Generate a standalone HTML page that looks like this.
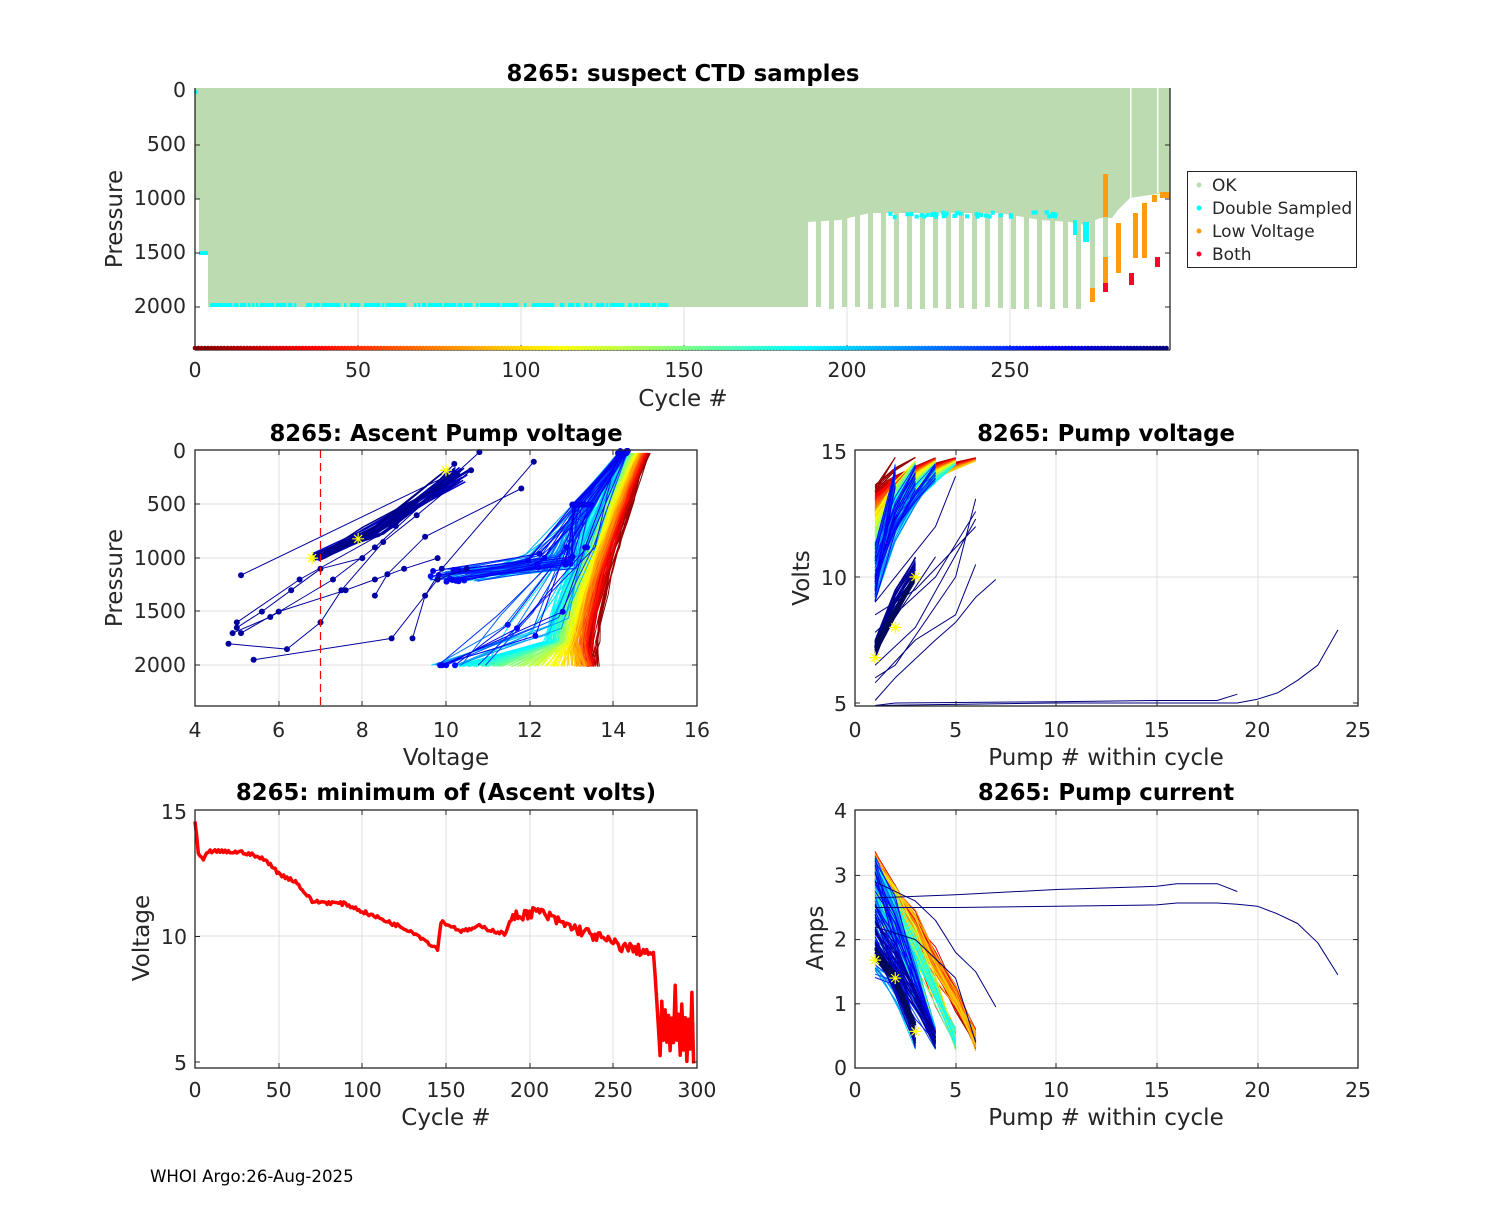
<!DOCTYPE html>
<html><head><meta charset="utf-8"><style>
html,body{margin:0;padding:0;background:#fff;}
svg text{font-family:"DejaVu Sans","Liberation Sans",sans-serif;fill:#262626;}
</style></head><body>
<svg id="s" width="1500" height="1200" viewBox="0 0 1500 1200" xmlns="http://www.w3.org/2000/svg">
<rect width="1500" height="1200" fill="#fff"/>
<g id="g"></g>
<g font-size="23">
<text x="683" y="81" text-anchor="middle" font-weight="bold" font-size="22.8" style="fill:#000">8265: suspect CTD samples</text>
<text x="446" y="441" text-anchor="middle" font-weight="bold" font-size="22.8" style="fill:#000">8265: Ascent Pump voltage</text>
<text x="1106" y="441" text-anchor="middle" font-weight="bold" font-size="22.8" style="fill:#000">8265: Pump voltage</text>
<text x="446" y="800" text-anchor="middle" font-weight="bold" font-size="22.8" style="fill:#000">8265: minimum of (Ascent volts)</text>
<text x="1106" y="800" text-anchor="middle" font-weight="bold" font-size="22.8" style="fill:#000">8265: Pump current</text>
<text x="683" y="406" text-anchor="middle">Cycle #</text>
<text x="446" y="765" text-anchor="middle">Voltage</text>
<text x="1106" y="765" text-anchor="middle">Pump # within cycle</text>
<text x="446" y="1125" text-anchor="middle">Cycle #</text>
<text x="1106" y="1125" text-anchor="middle">Pump # within cycle</text>
<text transform="translate(122,219) rotate(-90)" text-anchor="middle">Pressure</text>
<text transform="translate(122,578) rotate(-90)" text-anchor="middle">Pressure</text>
<text transform="translate(809,578) rotate(-90)" text-anchor="middle">Volts</text>
<text transform="translate(149,938) rotate(-90)" text-anchor="middle">Voltage</text>
<text transform="translate(823,938) rotate(-90)" text-anchor="middle">Amps</text>
<text x="150" y="1182" font-size="16.6" style="fill:#000">WHOI Argo:26-Aug-2025</text>
</g>
<g font-size="17">
<rect x="1187.5" y="171.5" width="169" height="96" fill="#fff" stroke="#262626"/>
<circle cx="1199" cy="185" r="2.5" fill="#bcdbb0"/><text x="1212" y="191">OK</text>
<circle cx="1199" cy="208" r="2.5" fill="#00ffff"/><text x="1212" y="214">Double Sampled</text>
<circle cx="1199" cy="231" r="2.5" fill="#ff9b0f"/><text x="1212" y="237">Low Voltage</text>
<circle cx="1199" cy="254" r="2.5" fill="#ff0028"/><text x="1212" y="260">Both</text>
</g>
</svg>
<script>
var seed=7;function R(){seed=(seed*16807)%2147483647;return (seed-1)/2147483646;}
function cl(v){return Math.max(0,Math.min(1,v));}
function jet(t){var r=cl(1.5-Math.abs(4*t-3)),g=cl(1.5-Math.abs(4*t-2)),b=cl(1.5-Math.abs(4*t-1));return 'rgb('+Math.round(r*255)+','+Math.round(g*255)+','+Math.round(b*255)+')';}
function cc(c){return jet(1-c/298);}
var o=[];
function ln(x1,y1,x2,y2,st,w,extra){o.push('<line x1="'+x1+'" y1="'+y1+'" x2="'+x2+'" y2="'+y2+'" stroke="'+st+'" stroke-width="'+(w||1)+'" '+(extra||'')+'/>');}
function rc(x,y,w,h,f){o.push('<rect x="'+x+'" y="'+y+'" width="'+w+'" height="'+h+'" fill="'+f+'"/>');}
function pl(pts,st,w){o.push('<polyline fill="none" stroke="'+st+'" stroke-width="'+(w||1)+'" stroke-linejoin="round" points="'+pts.map(function(p){return p[0].toFixed(1)+','+p[1].toFixed(1)}).join(' ')+'"/>');}
function tx(x,y,s,a){o.push('<text x="'+x+'" y="'+y+'" font-size="20.5" text-anchor="'+(a||'middle')+'">'+s+'</text>');}
function dot(x,y,r,f){o.push('<circle cx="'+x.toFixed(1)+'" cy="'+y.toFixed(1)+'" r="'+r+'" fill="'+f+'"/>');}
function star(x,y){var s=6;o.push('<path d="M'+(x-s)+' '+y+'H'+(x+s)+'M'+x+' '+(y-s)+'V'+(y+s)+'M'+(x-4)+' '+(y-4)+'L'+(x+4)+' '+(y+4)+'M'+(x-4)+' '+(y+4)+'L'+(x+4)+' '+(y-4)+'" stroke="#ff0" stroke-width="1.2"/>');}
function grid(x0,y0,x1,y1,xs,ys){xs.forEach(function(x){ln(x,y0,x,y1,'#dfdfdf');});ys.forEach(function(y){ln(x0,y,x1,y,'#dfdfdf');});}
function box(x0,y0,x1,y1,xs,ys){o.push('<rect x="'+x0+'" y="'+y0+'" width="'+(x1-x0)+'" height="'+(y1-y0)+'" fill="none" stroke="#262626" stroke-width="1.3"/>');
 xs.forEach(function(x){ln(x,y1,x,y1-5,'#262626');ln(x,y0,x,y0+5,'#262626');});ys.forEach(function(y){ln(x0,y,x0+5,y,'#262626');ln(x1,y,x1-5,y,'#262626');});}

/* ---------- TOP ---------- */
var TX=function(c){return 195+3.26*c;},TY=function(p){return 91+0.108*p;};
[358,521,684,847,1010].forEach(function(x){ln(x,88,x,350,'#dfdfdf');});
var G='#bcdbb0';
o.push('<polygon fill="'+G+'" points="195,88 808,88 808,307 208,307 208,254 199,254 199,199 195,199"/>');
var bnd=[[808,222],[840,220],[870,213],[1000,213],[1040,220],[1070,222],[1085,225],[1100,218],[1112,218],[1118,210],[1130,198],[1150,195],[1170,192]];
var pts='808,88 1170,88 ';for(var i=bnd.length-1;i>=0;i--)pts+=bnd[i][0]+','+bnd[i][1]+' ';
o.push('<polygon fill="'+G+'" points="'+pts+'"/>');
for(var x=816;x<1085;x+=13){rc(x,210,5,97+(R()*3|0),G);}
rc(1090,210,5,80,G);rc(1103,215,5,45,G);
rc(1130,88,1.5,110,'#fff');rc(1157,88,1.5,105,'#fff');
var OR='#ff9b0f',RD='#ff0028',CY='#00ffff';
rc(1090,288,5,14,OR);rc(1103,174,5,43,OR);rc(1103,257,5,26,OR);rc(1103,283,5,9,RD);
rc(1116,223,5,50,OR);rc(1129,273,5,12,RD);rc(1133,213,5,45,OR);rc(1142,203,5,55,OR);rc(1155,257,5,10,RD);
rc(1152,195,5,7,OR);rc(1160,192,10,6,OR);
rc(1073,220,4,15,CY);rc(1083,222,6,20,CY);
for(var c=0;c<40;c++){var x=878+R()*190;rc(x,210+R()*5,4,4,CY);}
for(var x=210;x<670;x+=2){if(R()<0.75)rc(x,303,2.5,4,CY);}
rc(199,251,9,4,CY);dot(196,92,2,CY);
ln(195,88,195,350,'#262626',1.3);ln(1170,88,1170,350,'#262626',1.3);ln(195,350,1170,350,'#262626',1.3);
[145,199,253,307].forEach(function(y){ln(1170,y,1165,y,'#262626');ln(195,y,200,y,'#262626');});
[358,521,684,847,1010].forEach(function(x){ln(x,350,x,345,'#262626');});
for(var c=0;c<=298;c++){dot(TX(c),348,2.3,cc(c));}
tx(186,97,'0','end');tx(186,151,'500','end');tx(186,205,'1000','end');tx(186,259,'1500','end');tx(186,313,'2000','end');
[0,50,100,150,200,250].forEach(function(v){tx(TX(v),377,v);});

/* ---------- MIDDLE LEFT ---------- */
var MX=function(v){return 195+41.83*(v-4);},MY=function(p){return 451+0.1071*p;};
var mlx=[279,362,446,530,613],mly=[504,558,611,665];
grid(195,450,697,706,mlx,mly);
for(var c=0;c<=298;c++){
 var col=cc(c),p=[];
 if(c<190){
  var b=c<90?13.4-0.004*c:13.04-(c-90)*0.03;b+=R()*0.3;
  var v2=13.4-0.006*c+R()*0.2, vt=14.8-0.003*c;
  p.push([b,2000+R()*15]);
  for(var k=1;k<=9;k++){var pp=2000-k*220;var f=(1-pp/1800);p.push([v2+(vt-v2)*Math.pow(f,1.3)+R()*0.12,pp]);}
 } else if(c<270){
  var vt=14.1+R()*0.3;
  if(c%4==0){p.push([9.5+R()*1.5,2000]);p.push([11.2+R()*1.8,1500+R()*300]);p.push([12.8+R()*0.8,900]);p.push([vt,0]);}
  else{p.push([9.6+R()*1.2,1100+R()*120]);p.push([11.8+R()*1.4,950+R()*150]);p.push([13+R()*0.6,500]);p.push([vt,20]);}
 } else {
  p.push([6.8+R()*0.3,950+R()*80]);p.push([8+R()*0.6,700+R()*100]);p.push([10+R()*0.6,150+R()*150]);
 }
 pl(p.map(function(q){return [MX(q[0]),MY(q[1])]}),col,c>=270?1.5:1);
 if(c>=255&&c<270)p.forEach(function(q){dot(MX(q[0]),MY(q[1]),3,col);});
}
var nv2='#0000a0';
[[[5.1,1160],[10.2,200]],[[5,1600],[6.5,1200],[8.8,700],[10.2,120]],[[4.9,1700],[5.8,1550],[7.3,1200],[8.3,900],[10.8,10]],[[4.8,1800],[6.2,1850],[7.0,1600],[7.5,1300],[8.5,850],[9.3,600],[10.6,180]],
 [[5.4,1950],[8.7,1750],[9.8,1200],[10.5,1100]],[[5,1650],[5.6,1500],[6.3,1300],[7.0,1100],[8.0,1000]],[[5.1,1700],[6.0,1500],[7.6,1300],[8.3,1200],[9.0,1100],[9.8,1000]],
 [[9.2,1750],[9.5,1350],[9.9,1100],[12.1,100]],[[8.3,1350],[8.6,1150],[9.5,800],[11.8,350]]].forEach(function(a){pl(a.map(function(q){return [MX(q[0]),MY(q[1])]}),nv2,1);a.forEach(function(q){dot(MX(q[0]),MY(q[1]),3,nv2);});});
star(MX(10),MY(180));star(MX(7.9),MY(820));star(MX(6.8),MY(1000));
ln(MX(7),450,MX(7),706,'#ff0000',1.2,'stroke-dasharray="8,5"');
box(195,450,697,706,mlx,mly);
[4,6,8,10,12,14,16].forEach(function(v){tx(MX(v),737,v);});
tx(186,458,'0','end');tx(186,511,'500','end');tx(186,565,'1000','end');tx(186,618,'1500','end');tx(186,672,'2000','end');

/* ---------- MIDDLE RIGHT ---------- */
var PX=function(k){return 855+20.12*k;},VY=function(v){return 451+25.2*(15-v);};
var mrx=[956,1056,1157,1258],mry=[577];
grid(855,450,1358,706,mrx,mry);
for(var c=0;c<=298;c+=1){
 var col=cc(c),n,v1,vt=14.75-0.0015*c;
 if(c<100){n=4+(R()*3|0);v1=13.4-c*0.012+R()*0.3;}
 else if(c<190){n=3+(R()*3|0);v1=12.2-(c-100)*0.02+R()*0.5;}
 else if(c<270){n=2+(R()*3|0);v1=9+R()*2.5;vt=13.5+R()*1;}
 else {n=3;v1=6.7+R()*0.8;vt=10+R()*0.8;}
 if(c<10){n=2+(R()*2|0);}
 var p=[];for(var k=1;k<=n;k++){var f=(k-1)/(n-1);p.push([PX(k),VY(v1+(vt-v1)*Math.pow(f,0.7))]);}
 pl(p,col,1);
}
var nv='#00007f';
[[[1,4.9],[2,5],[10,5.05],[15,5.1],[18,5.1],[19,5.35]],[[1,4.9],[10,5.0],[19,5.0],[20,5.15],[21,5.4],[22,5.9],[23,6.5],[24,7.9]],
 [[1,6],[2,6.5],[5,10],[6,13.1]],[[1,7.2],[4,10.8]],[[1,5.8],[3,7.5],[5,8.5],[6,10.5]],[[1,5.1],[2,6],[4,7.5],[5,8.2],[6,9.2],[7,9.9]],
 [[1,8.5],[3,9.5],[6,12]],[[1,6.5],[3,8],[6,12.3]],[[1,7.8],[4,10],[6,12.6]],[[1,9],[4,12],[5,14]]].forEach(function(a){pl(a.map(function(q){return [PX(q[0]),VY(q[1])]}),nv,1);});
for(var i=0;i<12;i++){pl([[PX(1),VY(6.8+R()*0.6)],[PX(3),VY(9.8+R()*0.4)]],'#000a5a',2);}
star(PX(3),VY(10));star(PX(2),VY(8));star(PX(1),VY(6.8));
box(855,450,1358,706,mrx,[VY(10),VY(5)]);
[0,5,10,15,20,25].forEach(function(v){tx(PX(v),737,v);});
tx(847,459,'15','end');tx(847,585,'10','end');tx(847,711,'5','end');

/* ---------- BOTTOM LEFT ---------- */
var BX=function(c){return 195+1.673*c;},BY=function(v){return 811+25.1*(15-v);};
var blx=[279,362,446,530,613],bly=[936];
grid(195,810,697,1068,blx,bly);
var kp=[[0,14.6],[2,13.3],[5,13.0],[8,13.4],[30,13.35],[40,13.1],[45,12.9],[50,12.5],[60,12.2],[65,11.8],[70,11.4],[90,11.3],[100,11.0],[130,10.2],[145,9.5],[147,10.6],[160,10.2],[170,10.4],[185,10.1],[190,10.8],[205,11.0],[220,10.5],[240,10.0],[255,9.6],[270,9.4],[274,9.2],[278,5.6]];
function interp(c){for(var i=1;i<kp.length;i++){if(c<=kp[i][0]){var a=kp[i-1],b=kp[i];return a[1]+(b[1]-a[1])*(c-a[0])/(b[0]-a[0]);}}return 6.5;}
var lp=[];for(var c=0;c<=298;c++){var v;if(c<278){var amp=c>190?0.45:0.15;v=interp(c)+(R()-0.5)*amp;}else{v=(c%2==0)?4.9+R()*1.0:6.6+R()*1.5;}lp.push([BX(c),BY(v)]);}
pl(lp,'#ff0000',3.5);
box(195,810,697,1068,blx,[BY(10),BY(5)]);
[0,50,100,150,200,250,300].forEach(function(v){tx(BX(v),1097,v);});
tx(187,819,'15','end');tx(187,944,'10','end');tx(187,1070,'5','end');

/* ---------- BOTTOM RIGHT ---------- */
var AY=function(a){return 1068-64.2*a;};
var brx=mrx,bry=[AY(1),AY(2),AY(3)];
grid(855,810,1358,1068,brx,bry);
for(var c=0;c<=298;c++){
 var col=cc(c),n,i1,ie=0.35+R()*0.2;
 if(c<100){n=5+(R()*2|0);i1=2.6+R()*0.7;}
 else if(c<190){n=4+(R()*2|0);i1=2.4+R()*0.9;}
 else if(c<270){n=3+(R()*2|0);i1=1.5+R()*1.8;}
 else {n=3+(R()*2|0);i1=1.6+R()*0.9;}
 var p=[];for(var k=1;k<=n;k++){var f=(k-1)/(n-1);p.push([PX(k),AY(i1+(ie-i1)*Math.pow(f,1.1+R()*0.3)+(R()-0.5)*0.2)]);}
 pl(p,col,1);
}
[[[1,2.65],[5,2.7],[10,2.78],[15,2.83],[16,2.87],[18,2.87],[19,2.75]],[[1,2.5],[5,2.5],[10,2.52],[15,2.54],[16,2.57],[18,2.57],[19,2.55],[20,2.52],[21,2.4],[22,2.25],[23,1.95],[24,1.45]],
 [[1,2.9],[3,2.6],[4,2.3],[5,1.8],[6,1.5],[7,0.95]],[[1,2.2],[3,2.0],[5,1.4],[6,0.4]]].forEach(function(a){pl(a.map(function(q){return [PX(q[0]),AY(q[1])]}),nv,1);});
for(var i=0;i<10;i++){pl([[PX(1),AY(1.7+R()*0.2)],[PX(2),AY(1.3+R()*0.2)],[PX(3),AY(0.5+R()*0.2)]],'#000a5a',2);}
star(PX(1),AY(1.68));star(PX(2),AY(1.4));star(PX(3),AY(0.57));
box(855,810,1358,1068,brx,bry);
[0,5,10,15,20,25].forEach(function(v){tx(PX(v),1097,v);});
[0,1,2,3,4].forEach(function(v){tx(847,AY(v)+7,v,'end');});

document.getElementById('g').innerHTML=o.join('');
</script>
</body></html>
